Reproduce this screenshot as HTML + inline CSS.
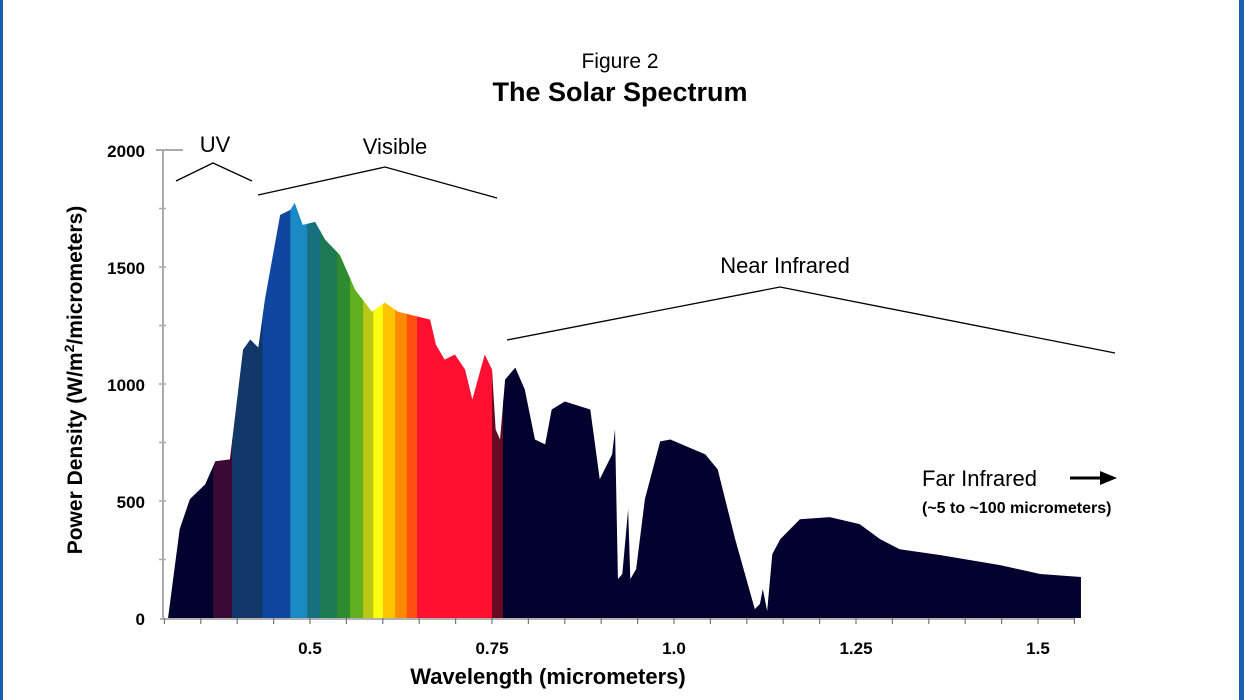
<!DOCTYPE html>
<html><head><meta charset="utf-8"><style>
body{margin:0;background:#fff;}
svg{display:block;}
text{font-family:"Liberation Sans",sans-serif;}
</style></head><body>
<svg id="chart" width="1244" height="700" viewBox="0 0 1244 700" xmlns="http://www.w3.org/2000/svg">
<rect x="0" y="0" width="1244" height="700" fill="#fff"/>
<rect x="0" y="0" width="3" height="700" fill="#1a5fb4"/>
<rect x="1239" y="0" width="5" height="700" fill="#1a5fb4"/>
<text x="620" y="68" text-anchor="middle" font-size="21">Figure 2</text>
<text x="620" y="101" text-anchor="middle" font-size="27" font-weight="bold">The Solar Spectrum</text>
<defs><clipPath id="specClip"><polygon id="clipPoly" points=""/></clipPath></defs>
<g id="bands" clip-path="url(#specClip)"></g>
<g id="axes"></g>
<text transform="translate(82,380) rotate(-90)" text-anchor="middle" font-size="21" font-weight="bold">Power Density (W/m<tspan font-size="14" dy="-8">2</tspan><tspan dy="8">/micrometers)</tspan></text>
<text x="548" y="684" text-anchor="middle" font-size="22" font-weight="bold">Wavelength (micrometers)</text>
<g fill="none" stroke="#000" stroke-width="1.3">
<polyline points="176,181 213,163 252,181"/>
<polyline points="258,195 385,167 497,198"/>
<polyline points="507,340 780,287 1115,353"/>
</g>
<text x="215" y="152" text-anchor="middle" font-size="22">UV</text>
<text x="395" y="154" text-anchor="middle" font-size="22">Visible</text>
<text x="785" y="273" text-anchor="middle" font-size="22">Near Infrared</text>
<text x="922" y="486" font-size="22">Far Infrared</text>
<line x1="1070" y1="478" x2="1102" y2="478" stroke="#000" stroke-width="3"/>
<polygon points="1100,471 1117,478 1100,485" fill="#000"/>
<text x="922" y="513" font-size="16" font-weight="bold">(~5 to ~100 micrometers)</text>
</svg>
<script>
const wavelengths=[0.305,0.321,0.335,0.356,0.370,0.390,0.408,0.418,0.429,0.438,0.459,0.473,0.479,0.490,0.507,0.521,0.541,0.562,0.585,0.603,0.621,0.665,0.673,0.685,0.699,0.713,0.723,0.740,0.750,0.755,0.761,0.768,0.782,0.795,0.809,0.823,0.832,0.850,0.885,0.898,0.915,0.919,0.923,0.929,0.937,0.940,0.948,0.960,0.981,0.995,1.043,1.060,1.084,1.111,1.118,1.122,1.128,1.135,1.146,1.173,1.214,1.255,1.283,1.310,1.365,1.448,1.503,1.559,1.559];
const power=[0,380,508,571,670,678,1147,1190,1156,1360,1723,1744,1774,1680,1693,1616,1552,1403,1309,1348,1309,1275,1168,1104,1126,1062,934,1126,1062,806,763,1019,1070,977,763,742,891,925,891,593,699,806,166,188,465,166,209,508,755,763,699,635,337,38,60,124,30,273,337,422,431,401,337,294,269,226,188,175,0];
const xTicks=[0.5,0.75,1.0,1.25,1.5];
const xTickLabels=["0.5","0.75","1.0","1.25","1.5"];
const yTicks=[0,500,1000,1500,2000];
const yTickLabels=["0","500","1000","1500","2000"];
const bandEdges=[0.29,0.367,0.393,0.435,0.473,0.496,0.514,0.537,0.555,0.573,0.587,0.600,0.617,0.633,0.647,0.750,0.765,1.6];
const bandColors=["#03022e","#3a0a34","#12386a","#0f46a0","#1a8ac4","#17707e","#1b7a52","#2e8b30","#60b020","#b8c814","#ffff10","#ffc400","#ff8a00","#ff5010","#ff1030","#6a0a22","#03022e"];

const NS="http://www.w3.org/2000/svg";
const X=w=>310+(w-0.5)*728;
const Y=v=>618-v*0.234;
function mk(tag,attrs,parent){const e=document.createElementNS(NS,tag);for(const k in attrs)e.setAttribute(k,attrs[k]);parent.appendChild(e);return e;}

document.getElementById('clipPoly').setAttribute('points',wavelengths.map((w,i)=>X(w)+','+Y(power[i])).join(' '));
const bands=document.getElementById('bands');


for(let i=0;i<bandColors.length;i++){
  const r=mk('rect',{x:X(bandEdges[i]),y:Y(2000),width:X(bandEdges[i+1])-X(bandEdges[i])+0.5,height:Y(0)-Y(2000),fill:bandColors[i]},bands);
  
  
}
const axes=document.getElementById('axes');
const ya=mk('line',{x1:163,y1:Y(2000),x2:163,y2:Y(0),stroke:'#aaa','stroke-width':2},axes);


mk('line',{x1:156,y1:Y(2000),x2:183,y2:Y(2000),stroke:'#aaa','stroke-width':2},axes);
const xa=mk('line',{x1:160,y1:Y(0)+1,x2:1075,y2:Y(0)+1,stroke:'#999','stroke-width':1.5},axes);


for(let v=250;v<2000;v+=250){mk('line',{x1:159,y1:Y(v),x2:166,y2:Y(v),stroke:'#aaa','stroke-width':1.5},axes);}
for(let w=0.3;w<=1.56;w+=0.05){mk('line',{x1:X(w),y1:Y(0),x2:X(w),y2:Y(0)+6,stroke:'#777','stroke-width':1.2},axes);}
yTicks.forEach((v,i)=>{
  const t=mk('text',{x:145,y:Y(v)+7,'text-anchor':'end','font-size':17,'font-weight':'bold'},axes);
  t.textContent=yTickLabels[i];
  
  
});
xTicks.forEach((w,i)=>{
  const t=mk('text',{x:X(w),y:654,'text-anchor':'middle','font-size':17,'font-weight':'bold'},axes);
  t.textContent=xTickLabels[i];
  
  
});
</script>
</body></html>
